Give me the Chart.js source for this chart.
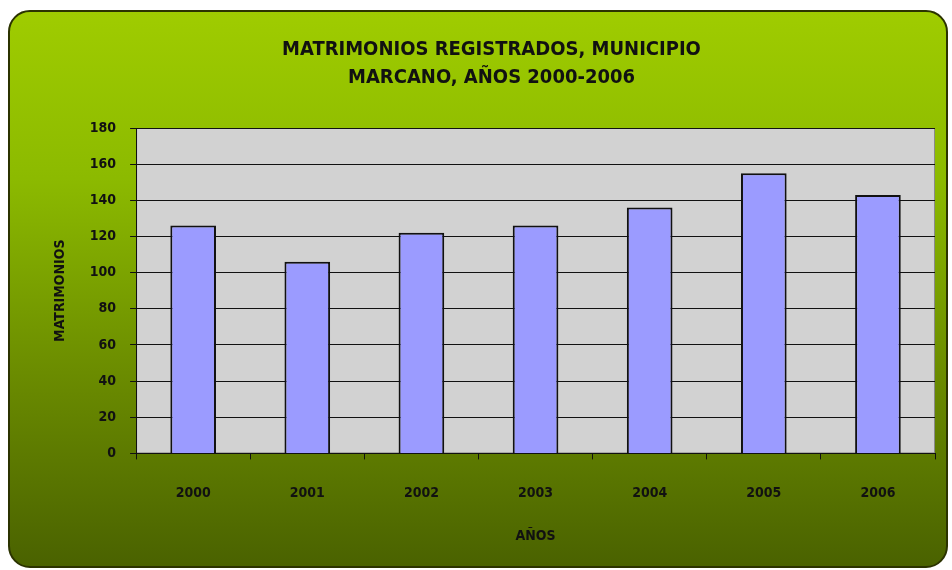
<!DOCTYPE html>
<html>
<head>
  <title>Matrimonios registrados</title>
  <script src="https://cdn.jsdelivr.net/npm/chart.js"></script>
  <style>
    body { margin: 0; background: #ffffff; }
    .card {
      position: absolute;
      left: 8px; top: 10px;
      width: 936px; height: 554px;
      border: 2px solid #2b3300;
      border-radius: 22px;
      background: linear-gradient(to bottom, #9fcc00 0%, #8cba00 30%, #6b8c00 65%, #4a6200 100%);
    }
    #chart { position: absolute; left: 0; top: 0; }
  </style>
</head>
<body>
  <div class="card"></div>
  <canvas id="chart" width="952" height="570"></canvas>

  <script>
    const years = ["2000", "2001", "2002", "2003", "2004", "2005", "2006"];
    const matrimonios = [126, 106, 122, 126, 136, 155, 143];
    const titleLines = ["MATRIMONIOS REGISTRADOS, MUNICIPIO", "MARCANO, AÑOS 2000-2006"];

    const narrow = "'DejaVu Sans Condensed', 'Liberation Sans Narrow', 'Liberation Sans', sans-serif";

    // gray plot area like the old spreadsheet charts
    const plotBackground = {
      id: "plotBackground",
      beforeDraw(chart) {
        const { ctx, chartArea: a } = chart;
        ctx.save();
        ctx.fillStyle = "#d2d2d2";
        ctx.fillRect(a.left, a.top, a.right - a.left, a.bottom - a.top);
        ctx.strokeStyle = "#8a8a8a";
        ctx.lineWidth = 1;
        ctx.strokeRect(a.left + 0.5, a.top + 0.5, a.right - a.left - 1, a.bottom - a.top - 1);
        ctx.restore();
      }
    };

    const ctx = document.getElementById("chart").getContext("2d");
    new Chart(ctx, {
      type: "bar",
      data: {
        labels: years,
        datasets: [{
          label: "Matrimonios",
          data: matrimonios,
          backgroundColor: "#9b9bff",
          borderColor: "#111111",
          borderWidth: 2,
          barPercentage: 0.4,
          categoryPercentage: 1.0
        }]
      },
      options: {
        responsive: false,
        animation: false,
        layout: { padding: { left: 48, right: 17, top: 36, bottom: 21 } },
        plugins: {
          legend: { display: false },
          tooltip: { enabled: false },
          title: {
            display: true,
            text: titleLines,
            color: "#111111",
            font: { family: narrow, size: 20, weight: "bold", lineHeight: 1.4 },
            padding: { top: 0, bottom: 36 }
          }
        },
        scales: {
          x: {
            grid: { display: true, drawOnChartArea: false, offset: true, color: "#111111", tickLength: 6 },
            border: { color: "#111111", width: 1 },
            ticks: { color: "#111111", font: { family: narrow, size: 14, weight: "bold" }, padding: 26 },
            title: { display: true, text: "AÑOS", color: "#111111", font: { family: narrow, size: 14, weight: "bold" }, padding: { top: 0 } }
          },
          y: {
            min: 0, max: 180,
            grid: { color: "#111111", tickLength: 6 },
            border: { color: "#111111", width: 1 },
            ticks: { stepSize: 20, color: "#111111", font: { family: narrow, size: 14, weight: "bold" }, padding: 14 },
            title: { display: true, text: "MATRIMONIOS", color: "#111111", font: { family: narrow, size: 14, weight: "bold" }, padding: { bottom: 7 } }
          }
        }
      },
      plugins: [plotBackground]
    });
  </script>
</body>
</html>
